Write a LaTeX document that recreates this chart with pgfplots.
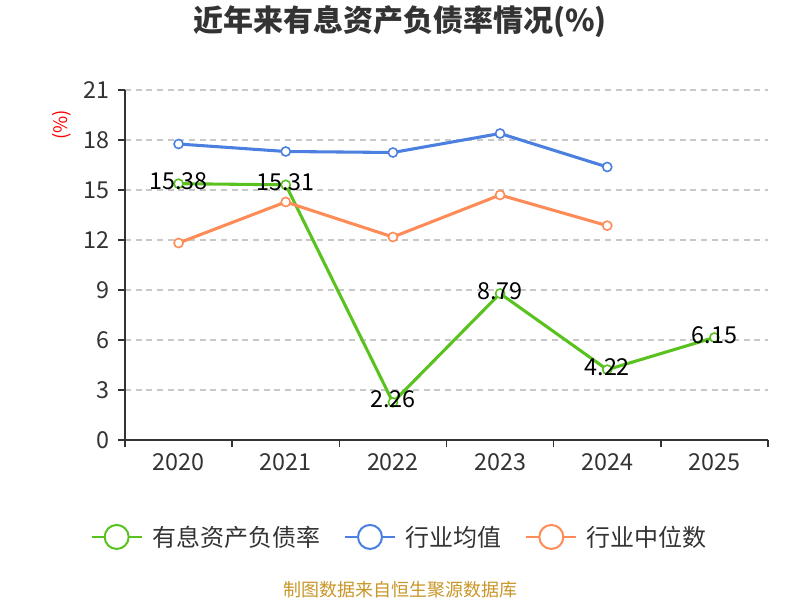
\documentclass[border=0pt]{standalone}
\usepackage{fontspec}
\setmainfont{Noto Sans CJK SC}
\usepackage{pgfplots}
\pgfplotsset{compat=1.18}
\definecolor{cgreen}{RGB}{90,194,30}
\definecolor{cblue}{RGB}{76,128,224}
\definecolor{corange}{RGB}{255,139,87}
\definecolor{ctext}{RGB}{51,51,51}
\definecolor{cgold}{RGB}{200,150,40}
\definecolor{cgrid}{RGB}{200,200,200}
\begin{document}
\begin{tikzpicture}[x=0.75pt,y=0.75pt]
\useasboundingbox (0,0) rectangle (800,600);
\node[font=\bfseries\fontsize{22.5}{27}\selectfont, text=ctext] at (400,578) {近年来有息资产负债率情况(\%)};
\node[rotate=90, text=red, font=\fontsize{14}{16}\selectfont] at (62,475) {(\%)};
\node[text=cgold, font=\fontsize{13.5}{16}\selectfont] at (400,10) {制图数据来自恒生聚源数据库};
\begin{axis}[
  at={(93.75pt,120pt)}, anchor=south west,
  scale only axis, width=482.25pt, height=262.5pt,
  xmin=-0.5, xmax=5.5, ymin=0, ymax=21,
  clip=false,
  axis lines*=left,
  axis line style={-, draw=ctext, line width=1.1pt},
  tick style={draw=ctext, line width=1.1pt},
  tick align=outside,
  major tick length=5.5pt,
  ytick={0,3,...,21},
  xtick={-0.5,0.5,...,5.5},
  xticklabels={},
  extra x ticks={0,1,2,3,4,5},
  extra x tick labels={2020,2021,2022,2023,2024,2025},
  extra x tick style={major tick length=0pt, xticklabel style={yshift=-7pt}},
  ymajorgrids,
  grid style={draw=cgrid, line width=0.9pt, dash pattern=on 4.5pt off 3.5pt},
  /pgf/number format/assume math mode=true,
  tick label style={font=\fontsize{17.5}{21}\selectfont, text=ctext},
  yticklabel style={xshift=-3pt},
  legend columns=3,
  legend style={at={(0.4277,-0.277)}, anchor=center, draw=none, fill=none,
    font=\fontsize{18}{22}\selectfont, text=ctext,
    /tikz/every even column/.append style={column sep=16pt},
    /tikz/every odd column/.append style={column sep=5pt}},
  legend image code/.code={
    \draw[line width=1.5pt] (0pt,0pt) -- (37.5pt,0pt);
    \draw[line width=1.5pt, fill=white] (18.75pt,0pt) circle (9pt);
  },
]
\addplot[color=cgreen, line width=2.3pt, mark=*, mark size=3.4pt,
  mark options={fill=white, line width=1.2pt},
  point meta=explicit symbolic,
  nodes near coords,
  nodes near coords style={anchor=center, yshift=2pt, text=black, font=\fontsize{17.5}{21}\selectfont}]
  coordinates {(0,15.38)[15.38] (1,15.31)[15.31] (2,2.26)[2.26] (3,8.79)[8.79] (4,4.22)[4.22] (5,6.15)[6.15]};
\addlegendentry{有息资产负债率}
\addplot[color=cblue, line width=2.3pt, mark=*, mark size=3.4pt,
  mark options={fill=white, line width=1.2pt}]
  coordinates {(0,17.76) (1,17.31) (2,17.25) (3,18.39) (4,16.38)};
\addlegendentry{行业均值}
\addplot[color=corange, line width=2.3pt, mark=*, mark size=3.4pt,
  mark options={fill=white, line width=1.2pt}]
  coordinates {(0,11.82) (1,14.28) (2,12.18) (3,14.70) (4,12.86)};
\addlegendentry{行业中位数}
\end{axis}
\end{tikzpicture}
\end{document}
